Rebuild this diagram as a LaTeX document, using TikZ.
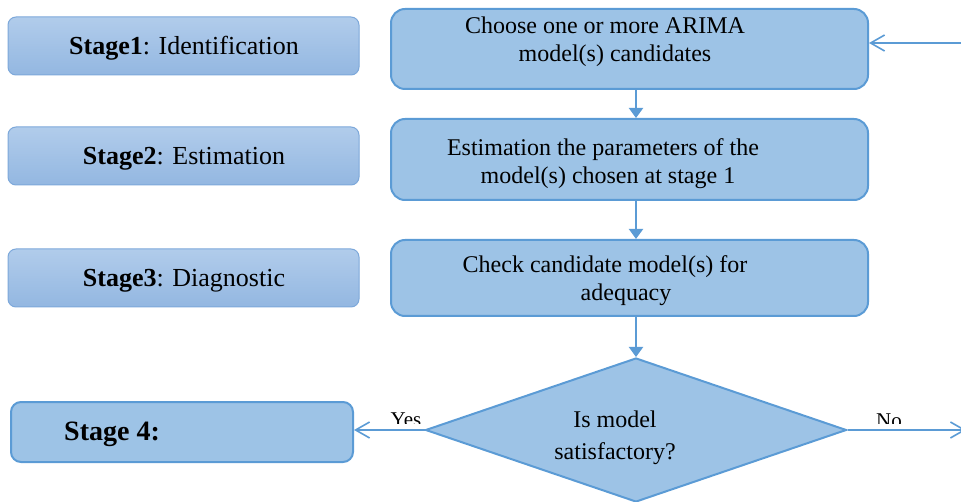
\documentclass[tikz,border=0pt]{standalone}
\usepackage{fontspec}
\setmainfont{Liberation Serif}
\usetikzlibrary{arrows.meta,shapes.geometric}
\definecolor{boxfill}{HTML}{9DC3E6}
\definecolor{boxline}{HTML}{5B9BD5}
\definecolor{stagetop}{HTML}{B1CCEB}
\definecolor{stagebot}{HTML}{93B7E1}
\definecolor{stageline}{HTML}{7DA8DA}
\begin{document}
\begin{tikzpicture}[x=1pt,y=-1pt,
 stagebox/.style={draw=stageline, line width=1pt, rounded corners=8pt, top color=stagetop, bottom color=stagebot, minimum width=351pt, minimum height=58pt, inner sep=0pt},
 stagetext/.style={font=\fontsize{26}{30}\selectfont, inner sep=0pt},
 procbox/.style={draw=boxline, line width=2pt, rounded corners=14pt, fill=boxfill, minimum width=477pt, inner sep=0pt},
 ptext/.style={align=center, font=\fontsize{24}{28}\selectfont, inner sep=0pt},
 flow/.style={draw=boxline, line width=2pt, -{Triangle[width=14pt,length=10pt]}},
 openarrow/.style={draw=boxline, line width=1.6pt, -{Straight Barb[width=16pt,length=14pt]}},
 lbl/.style={font=\fontsize{21}{24}\selectfont, anchor=base, inner sep=0pt},
]
\useasboundingbox (0,0) rectangle (961,502);
% left stage boxes
\node[stagebox] (s1) at (183.5,46) {};
\node[stagebox] (s2) at (183.5,156) {};
\node[stagebox] (s3) at (183.5,278) {};
\node[stagetext] (s1t) at (184,48.5) {\textbf{Stage1}: Identification};
\node[stagetext] (s2t) at (184,158.5) {\textbf{Stage2}: Estimation};
\node[stagetext] (s3t) at (184,280.5) {\textbf{Stage3}: Diagnostic};
\node[draw=boxline, line width=2pt, rounded corners=10pt, fill=boxfill, minimum width=342pt, minimum height=60pt, inner sep=0pt] (s4) at (182,432) {};
\node[anchor=west, inner sep=0pt, font=\bfseries\fontsize{28}{32}\selectfont] (s4t) at (64,434) {Stage 4:};
% process boxes
\node[procbox, minimum height=80pt] (b1) at (629.5,49) {};
\node[procbox, minimum height=81pt] (b2) at (629.5,159.5) {};
\node[procbox, minimum height=76pt] (b3) at (629.5,278) {};
\node[ptext] (t1) at (605,41.5) {Choose one or more ARIMA\\\hspace*{20pt}model(s) candidates};
\node[ptext] (t2) at (603,164) {Estimation the parameters of the\\\hspace*{10pt}model(s) chosen at stage 1};
\node[ptext] (t3) at (605,281) {Check candidate model(s) for\\\hspace*{42pt}adequacy};
% decision
\node[diamond, draw=boxline, line width=2pt, fill=boxfill, minimum width=421pt, minimum height=144pt, inner sep=0pt, shape aspect=2.92] (d) at (636,430) {};
\node[align=center, font=\fontsize{24}{32}\selectfont, inner sep=0pt] (dt) at (615,437.5) {Is model\\satisfactory?};
% connectors
\draw[flow] (b1.south -| d.north) -- (b2.north -| d.north);
\draw[flow] (b2.south -| d.north) -- (b3.north -| d.north);
\draw[flow] (b3.south -| d.north) -- (d.north);
\draw[openarrow] (d.west) -- (d.west -| s4.east);
\coordinate (noend) at (966,430);
\draw[openarrow] (d.east) -- (noend);
\coordinate (fbstart) at (961,43);
\draw[openarrow] (fbstart) -- (fbstart -| b1.east);
% clipped labels
\begin{scope}
\clip (370,395) rectangle (450,423);
\node[lbl] (yes) at (406,426) {Yes};
\end{scope}
\begin{scope}
\clip (860,395) rectangle (920,423);
\node[lbl] (no) at (889,428) {No};
\end{scope}
\end{tikzpicture}
\end{document}
